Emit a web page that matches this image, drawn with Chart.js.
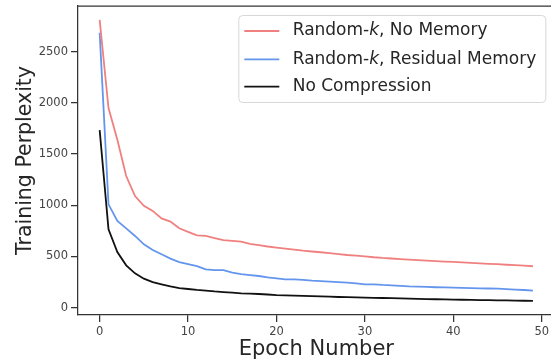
<!DOCTYPE html>
<html>
<head>
<meta charset="utf-8">
<script src="https://cdn.jsdelivr.net/npm/chart.js@4"></script>
<style>
  html, body { margin: 0; padding: 0; background: #fff; overflow: hidden; }
  #wrap { position: absolute; left: 0; top: 0; width: 560px; height: 362px; }
</style>
</head>
<body>
<div id="wrap"><canvas id="perplexityChart" width="560" height="362"></canvas></div>
<script>
// epochs 0..49
const epochs = Array.from({ length: 50 }, (_, i) => i);

// Random-k, No Memory
const noMemory = [
  2810, 1950, 1640, 1285, 1090, 995, 945, 872, 840, 775,
  740, 706, 700, 680, 660, 652, 645, 622, 610, 597,
  586, 576, 566, 556, 548, 541, 533, 523, 514, 507,
  501, 492, 485, 480, 474, 469, 464, 459, 454, 450,
  446, 441, 437, 432, 428, 424, 419, 415, 411, 404
];

// Random-k, Residual Memory
const residualMemory = [
  2685, 1009, 846, 774, 700, 618, 563, 521, 479, 445,
  426, 406, 374, 367, 367, 342, 328, 318, 309, 296,
  286, 276, 276, 272, 263, 258, 254, 249, 244, 236,
  228, 228, 222, 218, 213, 208, 205, 202, 199, 197,
  195, 193, 190, 188, 187, 185, 180, 176, 172, 166
];

// No Compression
const noCompression = [
  1734, 765, 543, 413, 335, 283, 250, 228, 208, 191,
  182, 173, 166, 158, 152, 146, 140, 136, 133, 128,
  123, 120, 117, 114, 112, 110, 107, 104, 102, 100,
  98, 96, 94, 92, 90, 88, 86, 84, 82, 80,
  78, 77, 75, 74, 73, 71, 70, 68, 67, 65
];

const xTicks = [0, 10, 20, 30, 40, 50];
const yTicks = [0, 500, 1000, 1500, 2000, 2500];

// legend entries: [before italic, italic, after italic]
const legendItems = [
  { parts: ["Random-", "k", ", No Memory"], color: "#f08080" },
  { parts: ["Random-", "k", ", Residual Memory"], color: "#6495ed" },
  { parts: ["No Compression", "", ""], color: "#111111" }
];

const FONT = "'DejaVu Sans', sans-serif";
const TEXT = "#262626";
const TICK_TEXT = "#444444";
const AXIS = "#333333";

function toPoints(arr) {
  return arr.map((v, i) => ({ x: epochs[i], y: v }));
}

/* =========================
   Top spine + legend box
========================= */
const extrasPlugin = {
  id: "extras",
  afterDraw(chart) {
    const { ctx, chartArea } = chart;
    ctx.save();

    // top spine
    ctx.strokeStyle = AXIS;
    ctx.lineWidth = 1.25;
    ctx.beginPath();
    ctx.moveTo(chartArea.left, chartArea.top);
    ctx.lineTo(chartArea.right, chartArea.top);
    ctx.stroke();

    // legend
    const boxW = 307, boxH = 87;
    const bx = chartArea.right - 9.3 - boxW;
    const by = chartArea.top + 9;
    ctx.fillStyle = "rgba(255,255,255,0.85)";
    ctx.strokeStyle = "#d8d8d8";
    ctx.lineWidth = 1;
    ctx.beginPath();
    ctx.roundRect(bx + 0.5, by + 0.5, boxW, boxH, 4);
    ctx.fill();
    ctx.stroke();

    const rowY = [by + 16, by + 44.3, by + 71.7];
    ctx.textBaseline = "middle";
    legendItems.forEach((item, i) => {
      const y = rowY[i];
      ctx.strokeStyle = item.color;
      ctx.lineWidth = 1.8;
      ctx.beginPath();
      ctx.moveTo(bx + 6, y);
      ctx.lineTo(bx + 41, y);
      ctx.stroke();

      let tx = bx + 54.4;
      ctx.fillStyle = TEXT;
      ctx.font = "17px " + FONT;
      ctx.fillText(item.parts[0], tx, y);
      tx += ctx.measureText(item.parts[0]).width;
      if (item.parts[1]) {
        ctx.font = "italic 17px " + FONT;
        ctx.fillText(item.parts[1], tx, y);
        tx += ctx.measureText(item.parts[1]).width;
        ctx.font = "17px " + FONT;
        ctx.fillText(item.parts[2], tx, y);
      }
    });
    ctx.restore();
  }
};

function makeDataset(label, data, color) {
  return {
    label: label,
    data: toPoints(data),
    borderColor: color,
    backgroundColor: color,
    borderWidth: 1.8,
    pointRadius: 0,
    tension: 0,
    fill: false
  };
}

const ctx = document.getElementById("perplexityChart").getContext("2d");
new Chart(ctx, {
  type: "line",
  data: {
    datasets: [
      makeDataset("Random-k, No Memory", noMemory, legendItems[0].color),
      makeDataset("Random-k, Residual Memory", residualMemory, legendItems[1].color),
      makeDataset("No Compression", noCompression, legendItems[2].color)
    ]
  },
  options: {
    responsive: false,
    devicePixelRatio: 1,
    animation: false,
    layout: { padding: { top: 6, right: 5.4, left: 0, bottom: 0 } },
    plugins: {
      legend: { display: false },
      tooltip: { enabled: false }
    },
    scales: {
      x: {
        type: "linear",
        min: -2.45,
        max: 51.45,
        afterBuildTicks: (s) => { s.ticks = xTicks.map(v => ({ value: v })); },
        afterFit: (s) => { s.height = 47; s.paddingLeft = 0; s.paddingRight = 0; },
        grid: { display: true, drawOnChartArea: false, drawTicks: true, tickLength: 7, color: AXIS, lineWidth: 1.25 },
        border: { display: true, color: AXIS, width: 1.25 },
        ticks: { color: TICK_TEXT, padding: 3, font: { family: FONT, size: 11.5 }, maxRotation: 0, callback: (v) => String(v) },
        title: { display: true, text: "Epoch Number", color: TEXT, padding: { top: 0, bottom: 0 }, font: { family: FONT, size: 21 } }
      },
      y: {
        type: "linear",
        min: -72,
        max: 2946,
        afterBuildTicks: (s) => { s.ticks = yTicks.map(v => ({ value: v })); },
        afterFit: (s) => { s.width = 78; s.paddingTop = 0; s.paddingBottom = 0; },
        grid: { display: true, drawOnChartArea: false, drawTicks: true, tickLength: 7, color: AXIS, lineWidth: 1.25 },
        border: { display: true, color: AXIS, width: 1.25 },
        ticks: { color: TICK_TEXT, padding: 3, font: { family: FONT, size: 11.5 }, callback: (v) => String(v) },
        title: { display: true, text: "Training Perplexity", color: TEXT, padding: { top: 13, bottom: 0 }, font: { family: FONT, size: 20.5 } }
      }
    }
  },
  plugins: [extrasPlugin]
});
</script>
</body>
</html>
